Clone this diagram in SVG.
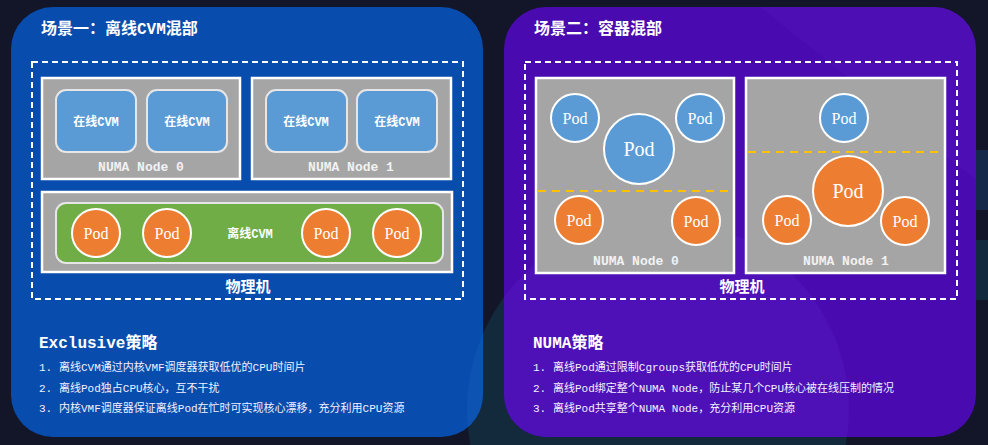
<svg xmlns="http://www.w3.org/2000/svg" width="988" height="445" viewBox="0 0 988 445">
<defs>
<style>
.bg{fill:#131628}
.panelA{fill:#084DAD}
.panelB{fill:#490BB0}
.dash{fill:none;stroke:#fff;stroke-width:2;stroke-dasharray:6,4}
.numa{fill:#A5A5A5;stroke:#fff;stroke-width:2.5}
.cvm{fill:#5B9BD5;stroke:#E6E6E6;stroke-width:2}
.green{fill:#70AD47;stroke:#E6E6E6;stroke-width:2}
.opod{fill:#ED7D31;stroke:#fff;stroke-width:2}
.bpod{fill:#5B9BD5;stroke:#fff;stroke-width:2}
.ydash{fill:none;stroke:#FFC000;stroke-width:2;stroke-dasharray:8,6}
.title{font-family:"Liberation Mono","Noto Sans CJK SC",monospace;font-size:16px;font-weight:bold;fill:#fff}
.lbl{font-family:"Liberation Mono","Noto Sans CJK SC",monospace;font-size:12px;font-weight:bold;fill:#fff;text-anchor:middle}
.numat{font-family:"Liberation Mono","Noto Sans CJK SC",monospace;font-size:13px;font-weight:bold;fill:#F2F2F2;text-anchor:middle}
.phys{font-family:"Liberation Mono","Noto Sans CJK SC",monospace;font-size:15px;font-weight:bold;fill:#fff;text-anchor:middle}
.pod{font-family:"Liberation Serif","Noto Sans CJK SC",serif;font-size:16px;fill:#fff;text-anchor:middle}
.podL{font-family:"Liberation Serif","Noto Sans CJK SC",serif;font-size:20px;fill:#fff;text-anchor:middle}
.head{font-family:"Liberation Mono","Noto Sans CJK SC",monospace;font-size:16px;font-weight:bold;fill:#fff}
.li{font-family:"Liberation Mono","Noto Sans CJK SC",monospace;font-size:11px;fill:#F2F0FF}
</style>
<clipPath id="clipA"><rect x="11" y="7" width="472" height="430" rx="42"/></clipPath>
<clipPath id="clipB"><rect x="504" y="7" width="472" height="430" rx="42"/></clipPath>
</defs>
<rect class="bg" x="0" y="0" width="988" height="445"/>
<circle cx="658" cy="410" r="191" fill="#13293C"/>
<polygon points="976,150 988,150 988,210 976,210" fill="#15284a"/>
<polygon points="976,240 988,240 988,300 976,300" fill="#132a3e"/>

<g id="panel1">
<rect class="panelA" x="11" y="7" width="472" height="430" rx="42"/>
<circle cx="658" cy="410" r="191" fill="#1a66c0" opacity="0.25" clip-path="url(#clipA)"/>
<text class="title" x="41" y="34">场景一：离线CVM混部</text>
</g>
<g id="panel2">
<rect class="panelB" x="504" y="7" width="472" height="430" rx="42"/>
<circle cx="658" cy="410" r="191" fill="#5a20c8" opacity="0.3" clip-path="url(#clipB)"/>
<polygon points="760,7 976,7 976,180" fill="#5a1cc0" opacity="0.25" clip-path="url(#clipB)"/>
<text class="title" x="534" y="34">场景二：容器混部</text>
</g>

<g id="host1">
<rect class="dash" x="32" y="62" width="431" height="237"/>
<text class="phys" x="248" y="292">物理机</text>
</g>
<g id="numa1-0">
<rect class="numa" x="42" y="78" width="198" height="101"/>
<text class="numat" x="141" y="171">NUMA Node 0</text>
</g>
<g id="cvm1"><rect class="cvm" x="56" y="90" width="80" height="62" rx="10"/><text class="lbl" x="96" y="126">在线CVM</text></g>
<g id="cvm2"><rect class="cvm" x="147" y="90" width="80" height="62" rx="10"/><text class="lbl" x="187" y="126">在线CVM</text></g>
<g id="numa1-1">
<rect class="numa" x="252" y="78" width="199" height="101"/>
<text class="numat" x="351" y="171">NUMA Node 1</text>
</g>
<g id="cvm3"><rect class="cvm" x="266" y="90" width="81" height="62" rx="10"/><text class="lbl" x="306" y="126">在线CVM</text></g>
<g id="cvm4"><rect class="cvm" x="357" y="90" width="80" height="62" rx="10"/><text class="lbl" x="397" y="126">在线CVM</text></g>
<g id="machine1"><rect class="numa" x="42" y="192" width="410" height="80"/></g>
<g id="offcvm">
<rect class="green" x="56" y="203" width="387" height="60" rx="10"/>
<text class="lbl" x="250" y="238">离线CVM</text>
</g>
<g id="pod1"><circle class="opod" cx="96" cy="233" r="24"/><text class="pod" x="96" y="239">Pod</text></g>
<g id="pod2"><circle class="opod" cx="167" cy="233" r="24"/><text class="pod" x="167" y="239">Pod</text></g>
<g id="pod3"><circle class="opod" cx="326" cy="233" r="24"/><text class="pod" x="326" y="239">Pod</text></g>
<g id="pod4"><circle class="opod" cx="397" cy="233" r="24"/><text class="pod" x="397" y="239">Pod</text></g>

<g id="strategy1">
<text class="head" x="39" y="348">Exclusive策略</text>
<text class="li" x="39" y="371">1.</text><text class="li" x="59" y="371">离线CVM通过内核VMF调度器获取低优的CPU时间片</text>
<text class="li" x="39" y="392">2.</text><text class="li" x="59" y="392">离线Pod独占CPU核心，互不干扰</text>
<text class="li" x="39" y="412">3.</text><text class="li" x="59" y="412">内核VMF调度器保证离线Pod在忙时可实现核心漂移，充分利用CPU资源</text>
</g>

<g id="host2">
<rect class="dash" x="525" y="62" width="432" height="237"/>
<text class="phys" x="742" y="292">物理机</text>
</g>
<g id="numa2-0">
<rect class="numa" x="536" y="78" width="198" height="195"/>
<line class="ydash" x1="538" y1="191" x2="731" y2="191"/>
<text class="numat" x="636" y="265">NUMA Node 0</text>
</g>
<g id="numa2-1">
<rect class="numa" x="746" y="78" width="199" height="195"/>
<line class="ydash" x1="748" y1="152" x2="941" y2="152"/>
<text class="numat" x="846" y="265">NUMA Node 1</text>
</g>
<g id="pod5"><circle class="bpod" cx="575" cy="118" r="24"/><text class="pod" x="575" y="124">Pod</text></g>
<g id="pod6"><circle class="bpod" cx="639" cy="149" r="35"/><text class="podL" x="639" y="156">Pod</text></g>
<g id="pod7"><circle class="bpod" cx="700" cy="118" r="24"/><text class="pod" x="700" y="124">Pod</text></g>
<g id="pod8"><circle class="opod" cx="579" cy="220" r="24"/><text class="pod" x="579" y="226">Pod</text></g>
<g id="pod9"><circle class="opod" cx="696" cy="221" r="24"/><text class="pod" x="696" y="227">Pod</text></g>
<g id="pod10"><circle class="bpod" cx="844" cy="118" r="24"/><text class="pod" x="844" y="124">Pod</text></g>
<g id="pod11"><circle class="opod" cx="848" cy="191" r="35"/><text class="podL" x="848" y="198">Pod</text></g>
<g id="pod12"><circle class="opod" cx="787" cy="220" r="24"/><text class="pod" x="787" y="226">Pod</text></g>
<g id="pod13"><circle class="opod" cx="905" cy="221" r="24"/><text class="pod" x="905" y="227">Pod</text></g>

<g id="strategy2">
<text class="head" x="533" y="348">NUMA策略</text>
<text class="li" x="533" y="371">1.</text><text class="li" x="553" y="371">离线Pod通过限制Cgroups获取低优的CPU时间片</text>
<text class="li" x="533" y="392">2.</text><text class="li" x="553" y="392">离线Pod绑定整个NUMA Node，防止某几个CPU核心被在线压制的情况</text>
<text class="li" x="533" y="412">3.</text><text class="li" x="553" y="412">离线Pod共享整个NUMA Node，充分利用CPU资源</text>
</g>
<g id="connectors"></g>
</svg>
